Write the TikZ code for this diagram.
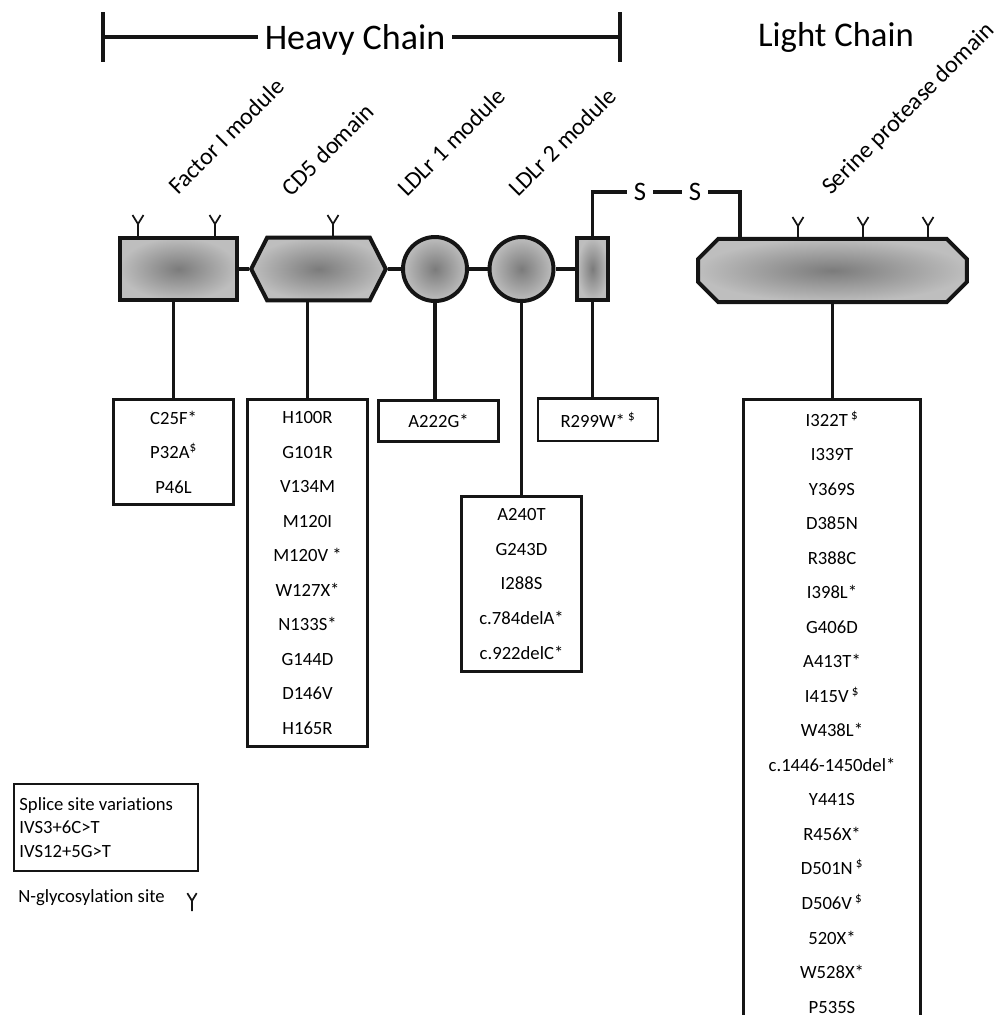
\documentclass[tikz,border=0pt]{standalone}
\usepackage{fontspec}
\setmainfont{Carlito}[Ligatures=NoCommon]
\usepackage{tikz}
\usetikzlibrary{calc,shapes.symbols}
\usepackage{xcolor}
\definecolor{ink}{HTML}{151515}
\definecolor{domcore}{HTML}{7B7B7B}
\definecolor{domrim}{HTML}{BEBEBE}

\tikzset{
  protdom/.style={draw=ink, line width=3pt, shade, inner color=domcore, outer color=domrim, inner sep=0pt},
  bond/.style={draw=ink, line width=2.6pt},
  bracket/.style={draw=ink, line width=2.8pt},
  mutbox/.style={draw=ink, line width=2pt, align=center, inner sep=0pt, minimum width=90pt, font=\fontsize{14}{25.9}\selectfont},
  modlabel/.style={rotate=45, anchor=base west, inner sep=0pt, font=\fontsize{18}{21}\selectfont},
  chainlabel/.style={inner sep=5pt, font=\fontsize{27}{31}\selectfont},
  sulfur/.style={inner sep=5pt, font=\fontsize{20}{24}\selectfont},
  glyc/.pic={\draw[ink, line width=1.3pt] (0,0) -- (0,-12) -- (-5.5,-21) (0,-12) -- (5.5,-21);}
}

\begin{document}
\begin{tikzpicture}[x=0.75pt, y=-0.75pt]
  \useasboundingbox (0,0) rectangle (1000,1015);

  \coordinate (hcl) at (103,37);
  \coordinate (hcr) at (620,37);
  \node[chainlabel] (hc) at (355,40) {Heavy Chain};
  \draw[bracket] (hcl) -- (hcl -| hc.west) (hc.east |- hcr) -- (hcr);
  \draw[bracket] ($(hcl)+(0,-25)$) -- ($(hcl)+(0,25)$);
  \draw[bracket] ($(hcr)+(0,-25)$) -- ($(hcr)+(0,25)$);
  \node[chainlabel, font=\fontsize{26}{30}\selectfont] (lcl) at (836,37) {Light Chain};

  \node[modlabel] (lfim) at (178,196) {Factor I module};
  \node[modlabel] (lcd5) at (291,198) {CD5 domain};
  \node[modlabel] (lld1) at (407,198) {LDLr 1 module};
  \node[modlabel] (lld2) at (518,198) {LDLr 2 module};
  \node[modlabel] (lsp) at (831,196) {Serine protease domain};

  \node[protdom, rectangle, minimum width=88pt, minimum height=47pt] (fim) at (178.5,269) {};
  \node[protdom, signal, signal to=east and west, signal pointer angle=126, minimum width=101pt, minimum height=47pt] (cd5) at (318.5,269) {};
  \node[protdom, circle, minimum size=48pt] (ldl1) at (435,269) {};
  \node[protdom, circle, minimum size=48pt] (ldl2) at (521.5,269) {};
  \node[protdom, rectangle, minimum width=23pt, minimum height=47pt] (lnk) at (592.5,269) {};
  \node[rectangle, inner sep=0pt, minimum width=201pt, minimum height=47pt] (sp) at (832.5,270.5) {};
  \path[protdom] ($(sp.north west)+(20,0)$) -- ($(sp.north east)+(-20,0)$) -- ($(sp.north east)+(0,20)$)
    -- ($(sp.south east)+(0,-20)$) -- ($(sp.south east)+(-20,0)$) -- ($(sp.south west)+(20,0)$)
    -- ($(sp.south west)+(0,-20)$) -- ($(sp.north west)+(0,20)$) -- cycle;

  \draw[bond] (fim.east) -- (cd5.west);
  \draw[bond] (cd5.east) -- (ldl1.west);
  \draw[bond] (ldl1.east) -- (ldl2.west);
  \draw[bond] (ldl2.east) -- (lnk.west);

  \pic at (138,236) {glyc};
  \pic at (215,236) {glyc};
  \pic at (333,236) {glyc};
  \foreach \gx in {798,863,928}
    \pic at (\gx,238) {glyc};

  \node[sulfur] (s1) at (640,192) {S};
  \node[sulfur] (s2) at (695,192) {S};
  \coordinate (spjoin) at (740,238);
  \draw[bond] (lnk.north) |- (s1.west);
  \draw[bond] (s1.east) -- (s2.west);
  \draw[bond] (s2.east) -| (spjoin);

  \node[mutbox, minimum height=79pt] (bfim) at (173.5,452) {C25F*\\P32A\textsuperscript{\$}\\P46L};
  \node[mutbox, minimum height=260.5pt] (bcd5) at (307.5,573) {H100R\\G101R\\V134M\\M120I\\M120V *\\W127X*\\N133S*\\G144D\\D146V\\H165R};
  \node[mutbox, minimum height=31pt] (bld1) at (438.5,421) {A222G*};
  \node[mutbox, minimum height=131.5pt] (bld2) at (521.5,584) {A240T\\G243D\\I288S\\c.784delA*\\c.922delC*};
  \node[mutbox, minimum height=32pt] (blnk) at (598,419.5) {R299W*\,\textsuperscript{\$}};
  \node[mutbox, minimum width=133pt, minimum height=469pt] (bsp) at (832,712) {I322T\,\textsuperscript{\$}\\I339T\\Y369S\\D385N\\R388C\\I398L*\\G406D\\A413T*\\I415V\,\textsuperscript{\$}\\W438L*\\c.1446-1450del*\\Y441S\\R456X*\\D501N\,\textsuperscript{\$}\\D506V\,\textsuperscript{\$}\\520X*\\W528X*\\P535S};

  \draw[bond] (bfim.north) -- (bfim.north |- fim.south);
  \draw[bond] (bcd5.north) -- (bcd5.north |- cd5.south);
  \draw[bond] (ldl1.south) -- (ldl1.south |- bld1.north);
  \draw[bond] (ldl2.south) -- (ldl2.south |- bld2.north);
  \draw[bond] (lnk.south) -- (lnk.south |- blnk.north);
  \draw[bond] (sp.south) -- (sp.south |- bsp.north);

  \node[draw=ink, line width=1.6pt, anchor=north west, text width=130pt, minimum height=65pt, align=flush left, inner xsep=4pt, font=\fontsize{14}{17.6}\selectfont] (splice) at (13,783) {Splice site variations\\IVS3+6C>T\\IVS12+5G>T};
  \node[anchor=west, inner sep=0pt, font=\fontsize{14}{17}\selectfont] (nglyc) at (18,898) {N-glycosylation site};
  \pic[scale=0.85] at (192,911) {glyc};
\end{tikzpicture}
\end{document}
